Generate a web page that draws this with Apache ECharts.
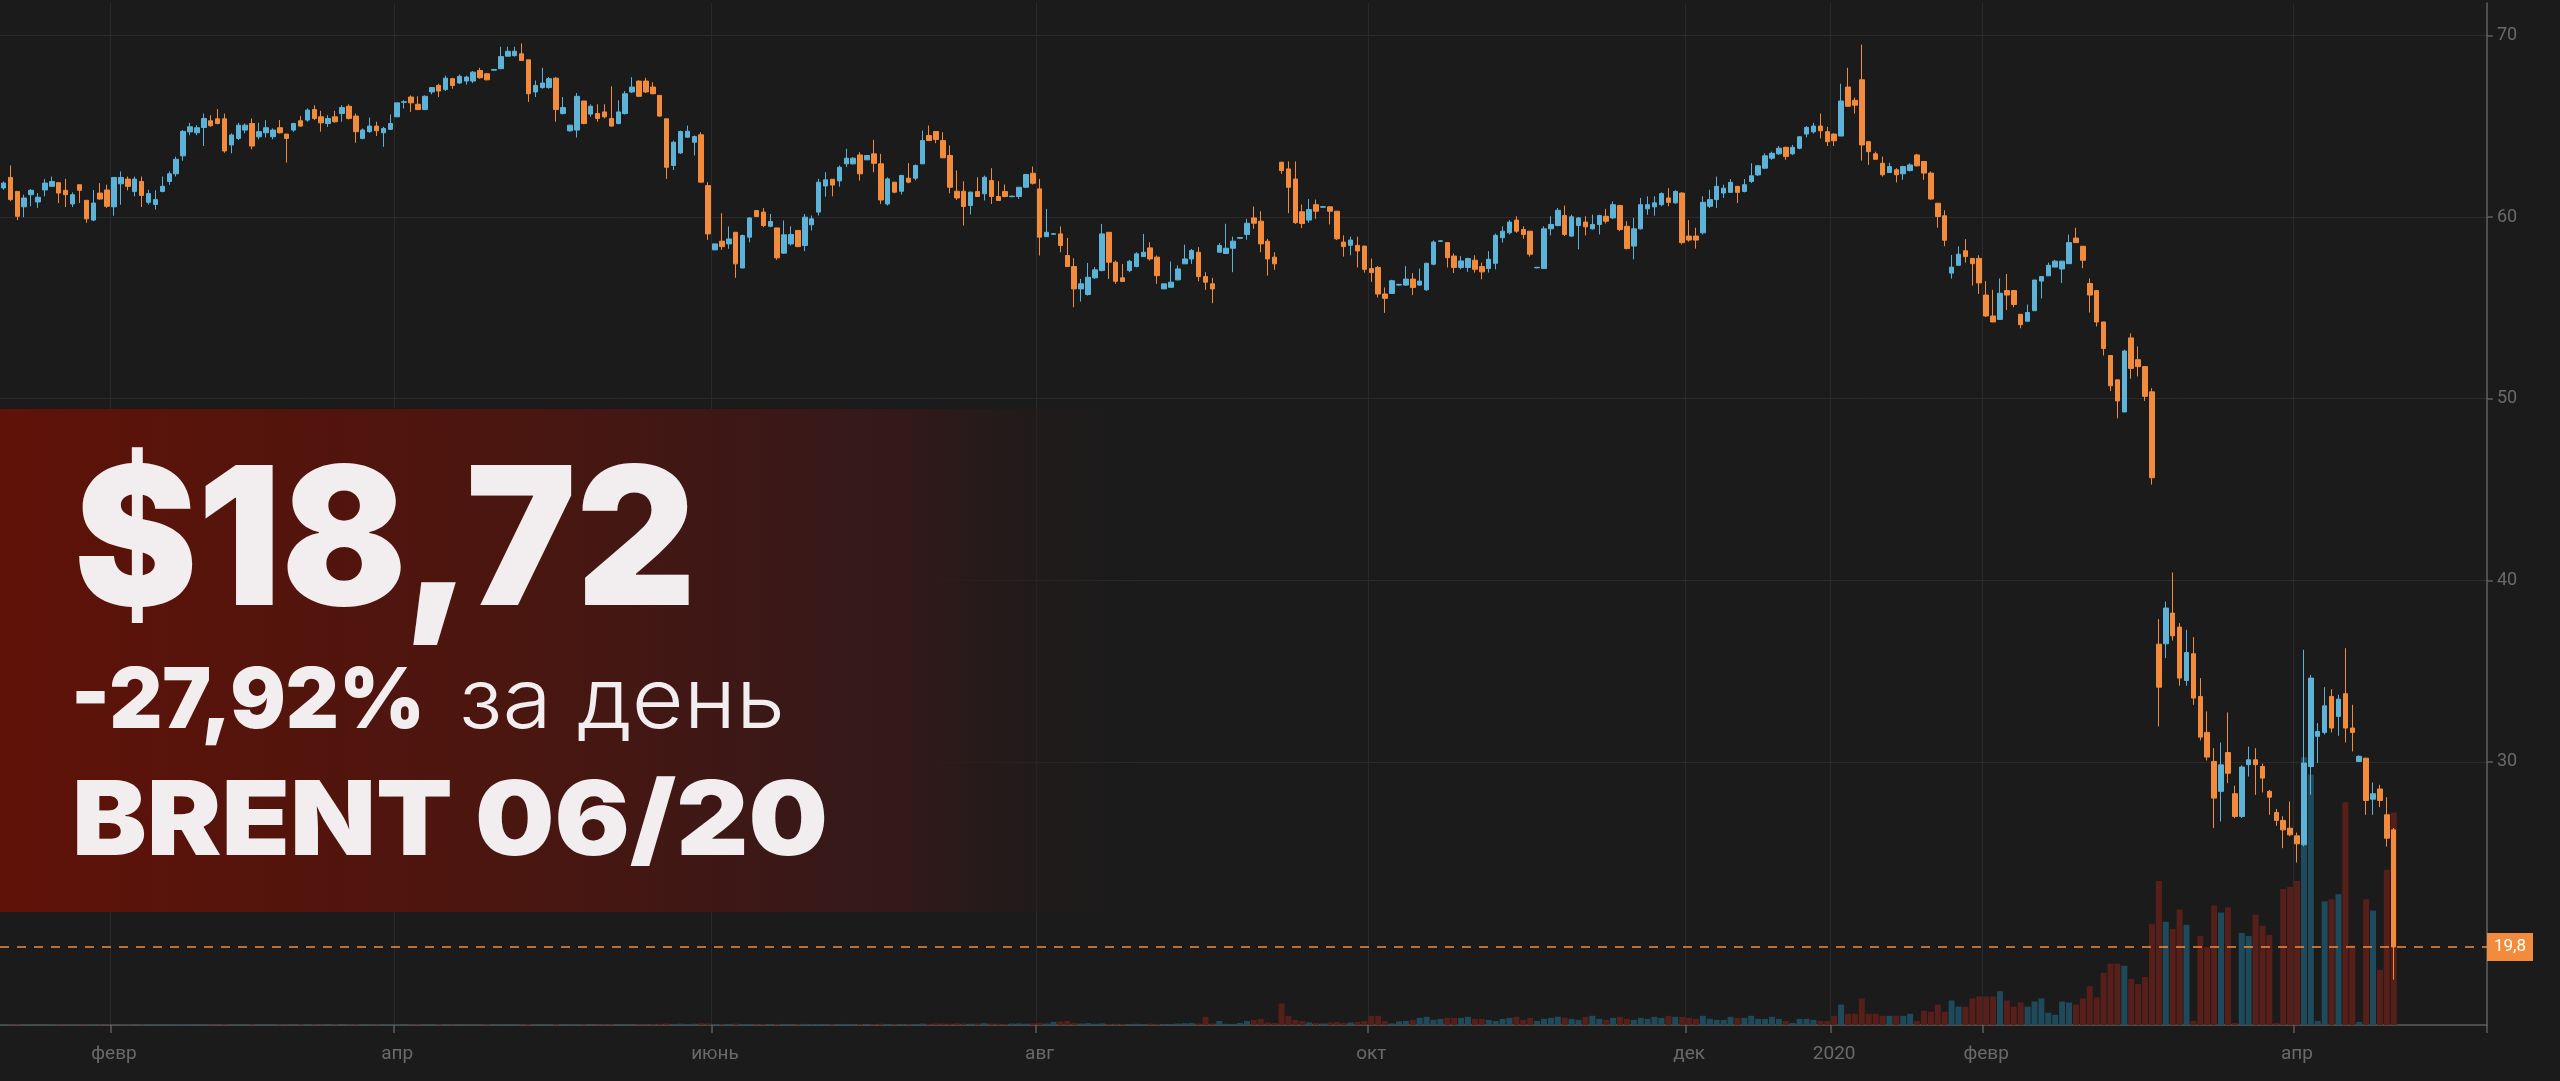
<!DOCTYPE html>
<html><head><meta charset="utf-8">
<script src="https://cdn.jsdelivr.net/npm/echarts/dist/echarts.min.js"></script>
<style>html,body{margin:0;padding:0;background:#1b1b1b;overflow:hidden}#c{width:2560px;height:1081px}</style>
</head><body><div id="c"></div>
<script>
// ---- data ----
const monthKeys = ['2019-01','2019-02','2019-03','2019-04','2019-05','2019-06','2019-07','2019-08','2019-09','2019-10','2019-11','2019-12','2020-01','2020-02','2020-03','2020-04'];
const candlesPerMonth = [16,20,21,21,25,22,25,24,24,24,22,21,22,22,23,15];
const emptySlotsAfter = 13;
const monthNames = ['янв','февр','март','апр','май','июнь','июль','авг','сент','окт','нояб','дек'];

const opens = [
61.61,62.19,61.42,60.57,61.24,60.84,61.5,61.7,61.9,61.48,
60.73,61.79,60.93,59.84,61.33,61.5,60.57,61.84,62.1,61.42,
61.97,60.82,60.7,61.42,61.97,62.39,63.38,64.7,64.65,64.94,
65.31,65.42,65.42,63.98,64.34,64.8,65.16,64.43,64.65,64.43,
64.93,64.58,64.8,65.31,65.35,65.93,65.53,65.16,65.53,65.71,
66.11,65.57,64.34,64.71,65.02,64.65,64.84,65.53,66.33,66.62,
66.22,65.93,66.9,67.26,67.03,67.63,67.39,67.5,67.5,68.08,
67.9,68.1,68.18,68.87,68.9,69.0,68.67,66.9,67.14,67.14,
67.66,65.71,64.76,64.8,66.4,65.68,65.71,65.8,65.44,65.16,
65.71,66.9,67.5,67.5,67.17,66.71,
65.42,62.85,63.54,64.41,64.13,64.54,61.74,58.2,58.68,58.53,
59.17,57.2,58.9,60.37,60.28,59.5,59.41,58.02,58.53,59.27,
58.44,59.58,60.28,61.72,62.09,62.0,62.94,62.94,63.43,63.16,
63.49,62.94,60.73,61.93,61.43,62.15,62.15,62.94,64.5,64.72,
64.22,63.4,61.43,61.43,60.64,61.41,61.29,62.02,61.14,61.41,
61.13,61.14,61.65,62.42,61.56,58.93,59.06,59.08,57.89,57.28,
56.05,55.74,56.66,57.06,59.17,57.52,56.66,57.06,57.28,57.83,
58.31,57.8,56.05,56.14,56.55,57.43,57.7,58.07,56.73,56.33,
58.07,58.0,58.29,58.84,59.05,59.96,59.78,58.68,57.8,63.03,
62.66,62.1,60.3,
59.84,60.69,60.55,60.57,60.33,58.63,58.45,58.45,58.41,57.17,
57.23,55.77,55.8,56.26,56.26,56.59,56.26,56.0,57.41,58.67,
58.6,57.86,57.23,57.23,57.63,57.28,57.17,57.46,58.87,59.14,
59.84,59.32,59.23,57.21,57.17,59.36,59.54,60.09,58.96,59.54,
59.73,59.36,59.6,60.05,59.96,60.64,59.5,58.41,59.36,60.46,
60.57,60.69,61.06,60.79,61.33,58.96,58.96,59.14,60.6,60.97,
61.33,61.37,61.7,61.42,61.97,62.33,62.7,63.25,63.49,63.85,
63.49,63.8,64.58,64.7,65.02,64.71,64.58,64.47,67.17,66.44,
67.57,64.16,63.49,62.97,62.46,62.61,62.39,62.57,63.43,63.07,62.43,
60.77,60.08,56.92,57.35,58.15,57.73,57.73,55.71,54.56,54.37,
55.96,55.96,54.65,54.27,54.85,56.48,56.77,57.25,57.15,57.44,
58.85,58.4,56.35,55.96,54.23,52.38,51.04,49.27,53.35,52.15,
51.77,50.38,
36.48,36.5,38.19,37.42,34.48,35.95,33.6,31.62,30.02,28.37,
30.51,28.24,26.99,29.84,30.11,29.74,28.37,27.21,26.77,26.34,
25.92,25.43,29.74,31.4,31.62,33.6,32.5,33.75,31.86,30.02,
30.2,27.94,28.5,27.08,26.25];

const closes = [
61.88,60.97,60.05,61.06,61.48,61.1,61.88,61.97,61.33,61.24,
61.24,61.48,59.91,60.78,61.0,60.6,62.19,62.19,61.7,62.1,
61.2,61.3,60.97,61.7,62.39,63.19,64.73,64.98,64.93,65.44,
65.04,65.16,63.65,64.53,65.07,65.07,63.92,64.71,64.93,64.8,
64.65,64.34,65.16,65.02,65.9,65.44,65.2,65.44,65.26,66.04,
65.44,64.71,64.8,65.02,64.76,64.89,65.16,66.3,66.36,66.3,
65.93,66.66,67.14,66.95,67.66,67.26,67.76,67.72,67.99,67.68,
67.57,68.14,68.85,69.14,69.14,68.63,66.8,67.26,67.39,67.63,
65.93,66.04,65.07,66.66,65.16,66.11,65.44,65.53,65.02,65.8,
66.8,67.17,66.66,66.9,66.8,65.57,
62.75,64.13,64.72,64.74,64.44,61.93,59.08,58.53,58.38,58.8,
57.43,58.99,59.96,60.04,59.54,59.76,57.76,59.03,59.05,58.38,
60.0,59.91,61.93,62.06,61.77,62.75,63.25,63.25,62.39,63.4,
62.97,60.95,62.11,61.38,62.3,61.93,62.85,64.22,64.22,64.28,
63.27,61.65,61.06,60.59,61.38,61.14,62.2,61.14,60.92,61.14,
61.16,61.65,62.35,61.87,58.9,59.17,59.09,58.44,57.28,56.05,
56.33,56.69,57.1,59.08,57.52,56.47,56.46,57.57,57.98,58.07,
57.7,56.78,56.33,56.42,57.15,57.7,58.16,56.73,56.42,56.05,
58.44,58.29,58.68,58.88,59.67,59.67,58.53,57.7,57.43,62.57,
61.65,59.7,59.65,
60.42,60.33,60.58,60.33,58.81,58.38,58.74,58.14,57.13,56.95,
55.77,55.53,56.5,56.3,56.59,56.13,56.48,57.46,58.63,58.7,
57.77,57.23,57.59,57.72,57.13,56.99,57.68,59.0,59.23,59.73,
59.23,59.05,57.96,57.24,59.36,59.6,60.38,59.05,60.02,59.96,
59.47,59.6,60.09,59.78,60.69,59.32,58.27,59.36,60.69,60.69,
60.79,61.3,60.82,61.42,58.6,58.74,58.74,60.82,60.97,61.7,
61.6,61.92,61.37,61.79,62.28,62.83,63.38,63.52,63.8,63.34,
63.85,64.43,64.95,65.02,64.76,64.16,64.21,66.4,66.11,66.17,
63.98,63.61,63.19,62.34,62.79,62.34,62.79,62.88,62.83,62.43,61.0,
60.04,58.73,57.25,57.96,57.83,57.44,56.38,54.56,54.23,55.81,
55.71,55.19,54.08,54.75,56.54,56.73,57.35,57.58,57.58,58.6,
58.6,57.63,55.71,54.23,52.77,50.71,49.88,52.63,51.67,51.77,
50.13,45.65,
34.11,38.47,36.94,34.61,36.02,33.51,31.36,30.26,28.0,29.83,
29.37,26.99,29.71,30.11,29.84,29.1,28.05,26.77,26.25,25.98,
25.48,29.93,34.61,31.67,33.08,31.86,33.45,31.86,31.62,30.3,
27.87,28.24,27.87,25.79,19.8];

const lows = [
61.51,60.88,59.84,60.0,60.6,60.51,61.15,61.66,60.78,60.56,
60.56,60.78,59.69,59.78,60.97,60.51,60.08,60.69,61.48,61.15,
60.56,60.69,60.42,61.37,61.79,62.24,63.11,64.52,64.52,63.92,
64.98,65.12,63.55,63.52,64.25,64.62,63.74,64.29,64.39,64.29,
64.61,63.01,64.7,64.98,65.26,65.35,64.71,64.98,65.2,65.26,
65.38,64.1,64.29,64.65,64.47,63.88,64.8,65.53,65.99,65.8,
65.9,65.9,66.77,66.62,66.95,67.08,67.35,67.3,67.39,67.63,
67.53,68.08,68.18,68.87,68.85,68.63,66.35,66.62,67.08,67.08,
65.26,65.66,64.71,64.39,65.12,65.53,65.26,65.44,64.98,65.12,
65.66,66.84,66.62,66.84,66.77,65.53,
62.11,62.6,63.49,64.38,63.4,61.93,58.75,58.2,58.2,58.26,
56.66,57.2,58.62,60.0,59.45,59.45,57.65,57.98,58.44,58.35,
58.13,59.27,60.09,61.13,61.15,61.68,62.76,62.9,62.02,63.16,
62.48,60.73,60.64,61.32,61.25,61.87,62.02,62.94,64.22,64.08,
63.27,61.32,60.95,59.54,60.15,61.14,60.92,60.73,60.92,61.1,
61.1,61.01,61.61,61.8,57.89,58.93,59.03,58.07,57.28,55.04,
55.35,55.68,56.6,57.02,56.6,56.33,56.46,56.97,57.24,57.83,
57.61,56.33,56.05,56.14,56.51,57.43,57.43,56.47,56.0,55.26,
58.07,57.98,56.97,58.82,58.76,59.36,58.07,56.78,57.1,62.39,
60.22,59.63,59.4,
59.69,59.91,60.52,59.6,58.74,57.83,57.9,57.23,56.95,56.44,
55.58,54.73,55.8,56.24,56.22,55.71,56.22,55.95,57.35,58.65,
57.23,56.92,57.13,56.99,56.95,56.58,56.95,57.13,58.6,59.05,
59.14,58.81,57.83,57.19,57.17,59.0,59.5,58.96,58.92,58.23,
59.0,59.32,59.05,59.65,59.9,59.23,58.23,57.68,59.32,60.14,
60.09,60.6,60.6,60.75,58.5,58.65,58.27,59.05,60.51,60.51,
61.06,61.33,60.78,61.37,61.88,62.28,62.65,63.16,63.43,63.16,
63.43,63.74,64.4,64.61,64.34,63.92,63.92,64.47,66.11,65.71,
63.12,62.88,63.19,62.24,62.43,61.92,62.06,62.52,62.79,62.06,60.97,
59.42,58.4,56.62,57.35,57.5,56.23,55.77,54.5,54.23,54.37,
54.88,55.04,53.88,54.27,54.85,55.52,56.77,57.25,56.38,57.44,
58.6,57.19,54.75,53.98,52.38,50.42,48.92,49.27,51.1,51.23,
49.88,45.27,
31.95,35.71,36.68,34.19,34.19,33.14,31.18,30.07,26.35,26.71,
28.82,26.9,26.9,29.19,28.18,28.31,27.08,26.47,25.24,25.9,
24.45,25.34,28.18,29.93,31.5,31.62,31.43,31.06,30.57,30.0,
27.08,27.08,27.5,25.33,18.0];

const highs = [
61.97,62.85,61.42,61.24,61.55,61.33,62.1,62.24,61.9,62.11,
61.37,61.79,60.93,61.5,61.88,61.79,62.19,62.52,62.24,62.24,
62.24,61.51,61.48,62.24,62.52,63.33,64.8,65.2,65.07,65.71,
65.62,65.96,65.71,64.62,65.2,65.16,65.44,65.2,65.35,64.89,
65.35,64.58,65.2,65.57,65.99,66.17,65.86,65.62,65.86,66.17,
66.22,65.71,64.89,65.49,65.26,64.98,65.66,66.3,66.44,66.71,
66.66,66.71,67.17,67.35,67.8,67.68,67.86,67.8,68.05,68.23,
67.94,68.16,69.39,69.39,69.39,69.57,68.67,67.53,68.23,67.72,
67.72,66.62,65.07,66.84,66.4,66.22,66.22,66.22,67.21,66.44,
66.95,67.71,67.53,67.68,67.44,66.71,
65.42,64.22,64.77,65.05,64.5,64.68,61.93,58.53,60.22,59.49,
59.17,59.04,60.0,60.37,60.5,60.18,59.41,59.82,59.5,59.27,
60.18,60.09,62.11,62.48,62.09,62.85,63.77,63.31,63.58,63.4,
64.26,63.49,62.2,61.93,62.33,62.98,62.9,64.77,65.05,64.72,
64.68,63.95,62.58,61.98,61.41,62.2,62.29,62.7,61.98,61.8,
61.18,61.65,62.39,62.79,62.11,60.46,59.12,59.49,58.86,57.74,
56.6,57.48,57.25,59.63,59.17,57.61,57.43,57.65,58.07,59.08,
58.62,57.89,56.33,57.56,57.34,58.49,58.25,58.35,56.97,56.66,
58.57,59.64,58.93,58.9,59.91,60.59,60.33,58.81,58.07,63.03,
63.07,63.07,60.7,
61.0,60.97,60.62,60.6,60.33,59.0,58.93,58.93,58.41,57.72,
57.32,56.13,56.55,56.32,57.3,56.92,57.17,57.5,58.72,58.72,
58.63,58.0,57.86,57.77,57.9,57.5,58.13,59.1,59.5,59.84,
60.05,59.5,59.23,57.26,59.5,60.05,60.51,60.64,60.14,60.02,
60.05,60.14,60.14,60.46,60.87,60.69,59.78,59.96,61.06,61.15,
61.15,61.37,61.6,61.48,61.37,59.84,59.42,61.15,61.51,62.24,
61.79,62.1,61.7,62.1,62.97,62.88,63.52,63.61,63.92,63.88,
63.98,64.47,65.02,65.2,65.71,64.98,64.62,67.35,68.23,66.59,
69.51,64.16,63.61,63.34,63.0,62.7,62.83,62.97,63.49,63.07,62.52,
60.77,60.38,57.92,58.4,58.79,57.73,57.9,56.48,56.0,56.62,
56.87,55.96,54.65,55.19,56.54,56.73,57.5,57.65,57.58,59.04,
59.42,58.4,56.62,55.96,54.23,52.38,51.04,52.7,53.6,52.88,
51.77,50.58,
37.86,38.83,40.43,37.64,37.27,36.87,34.61,32.77,30.75,31.06,
32.72,28.68,29.8,30.84,30.75,29.9,28.45,27.4,27.0,27.81,
26.1,36.17,34.79,32.13,34.11,34.0,33.69,36.26,33.14,30.35,
30.2,28.86,28.73,28.05,26.35];

// volume, thousand lots
const volumes = [
0.4,0.3,0.5,0.3,0.4,0.2,0.3,0.5,0.4,0.3,0.6,0.3,0.4,0.5,0.3,0.4,0.3,0.5,0.4,0.3,
0.3,0.4,0.5,0.3,0.4,0.6,0.8,0.4,0.3,0.5,0.4,0.3,0.6,0.4,0.5,0.3,0.5,0.4,0.3,0.4,
0.5,0.4,0.3,0.6,0.4,0.5,0.3,0.4,0.5,0.3,0.4,0.6,0.3,0.5,0.4,0.3,0.5,0.6,0.3,0.4,
0.5,0.3,0.4,0.6,0.5,0.3,0.4,0.5,0.4,0.3,0.6,0.3,0.5,0.4,0.4,0.5,0.8,0.4,0.3,0.5,
0.7,0.4,0.5,0.6,0.5,0.4,0.3,0.5,0.6,0.4,0.5,0.4,0.6,0.5,0.7,1.2,1.5,1.0,1.3,0.9,
1.2,1.8,1.5,1.0,0.8,1.1,1.4,1.0,0.9,0.7,1.0,0.8,1.2,0.9,0.7,0.8,1.1,0.9,1.0,0.8,
0.7,0.9,1.1,0.8,1.0,0.6,0.9,1.3,1.0,0.8,0.9,0.7,1.0,1.4,1.2,1.6,1.5,1.3,1.7,1.4,
1.2,1.6,1.8,1.5,1.3,1.0,1.4,1.6,1.3,1.7,2.0,1.5,3.0,3.5,4.0,2.0,1.5,1.8,1.2,1.6,
1.0,1.3,1.1,0.9,1.2,1.0,1.4,1.1,0.8,1.0,1.5,1.8,2.0,1.6,8.0,1.5,4.0,1.2,1.0,2.0,
4.0,5.0,6.0,2.5,2.0,21,9.0,5.0,4.0,2.5,2.0,1.5,2.5,3.0,2.0,2.5,3.0,4.0,9.0,9.0,
4.0,1.5,3.5,4.0,5.0,7.0,8.0,5.0,6.0,7.0,7.0,7.0,8.0,6.0,6.0,5.0,4.0,6.0,7.0,8.0,
5.0,7.0,4.0,6.0,7.0,8.0,7.0,6.0,5.0,8.0,9.0,6.0,5.0,7.0,8.0,6.0,5.0,7.0,6.0,8.0,
7.0,9.0,8.0,8.0,7.0,6.0,9.0,6.0,5.0,5.0,8.0,7.0,7.0,9.0,6.0,6.0,8.0,6.0,4.0,2.0,
6.0,6.0,5.0,4.0,4.0,9.0,20,11,11,26,11,11,9,9,9,9,11,4,14,13,
20,13,24,18,18,26,28,28,28,33,24,18,22,18,23,26,12,
10,23,22,20,26,38,27,51,60,60,58,45,40,47,99,141,101,94,113,98,
4,87,76,117,110,115,2,90,87,108,97,88,2,133,135,141,262,245,4,121,
123,128,218,78,3,123,112,54,152,208];

const priceTicks = [30,40,50,60,70];
const lastPrice = 19.8;
const headline = '$18,72';
const changeBold = '-27,92%';
const changeLight = 'за день';
const ticker = 'BRENT 06/20';

// ---- build ----
const categories = [];
monthKeys.forEach((k, mi) => {
  for (let d = 0; d < candlesPerMonth[mi]; d++) categories.push(k + '-' + String(d + 1).padStart(2, '0'));
});
const lastKey = monthKeys[monthKeys.length - 1];
for (let p = 0; p < emptySlotsAfter; p++) categories.push(lastKey + '-' + String(candlesPerMonth[candlesPerMonth.length - 1] + p + 1));

const candleData = opens.map((o, i) => [o, closes[i], lows[i], highs[i]]);
const UP = '#5cb3d7', DOWN = '#f28c3c', VUP = '#1f4a5b', VDOWN = '#571f19';
const volData = volumes.map((v, i) => ({ value: v, itemStyle: { color: closes[i] >= opens[i] ? VUP : VDOWN } }));

function isShownMonthStart(idx) {
  if (idx <= 0 || idx >= categories.length) return false;
  const cur = categories[idx].slice(0, 7), prev = categories[idx - 1].slice(0, 7);
  if (cur === prev) return false;
  const m = +cur.slice(5, 7);
  return m === 1 || m % 2 === 0;
}
function monthLabel(val) {
  const m = +val.slice(5, 7);
  return m === 1 ? val.slice(0, 4) : monthNames[m - 1];
}

// horizontal stretch so the overlay words span the same width as in the picture
const measureCtx = document.createElement('canvas').getContext('2d');
function stretchTo(text, weight, size, family, targetWidth) {
  measureCtx.font = weight + ' ' + size + 'px ' + family;
  const w = measureCtx.measureText(text).width;
  return w > 0 ? targetWidth / w : 1;
}
const FONT = 'Inter';
const TXT = '#f2eef0';

const AX = '#5e5e5e', LBL = '#6a6a6a', GRIDC = '#2a2a2a';
const chart = echarts.init(document.getElementById('c'), null, { renderer: 'canvas' });
chart.setOption({
  backgroundColor: '#1b1b1b',
  animation: false,
  grid: { left: 0, top: 3, width: 2487, height: 1022, outerBoundsMode: 'none', containLabel: false },
  xAxis: {
    type: 'category', data: categories, boundaryGap: true,
    axisLine: { show: true, lineStyle: { color: AX, width: 1.5 } },
    axisTick: { show: true, interval: (i) => isShownMonthStart(i), length: 8, lineStyle: { color: AX, width: 1.5 } },
    axisLabel: { interval: (i) => isShownMonthStart(i), formatter: monthLabel, color: LBL, fontSize: 19, fontFamily: 'Roboto', margin: 20 },
    splitLine: { show: true, interval: (i) => isShownMonthStart(i), lineStyle: { color: GRIDC, width: 1 } }
  },
  yAxis: [{
    type: 'value', position: 'right', min: 15.5, max: 71.8, scale: true,
    axisLine: { show: true, lineStyle: { color: AX, width: 1.5 } },
    axisTick: { show: true, length: 6, customValues: priceTicks, lineStyle: { color: AX, width: 1.5 } },
    axisLabel: { customValues: priceTicks, color: LBL, fontSize: 18, fontFamily: 'Roboto', margin: 10 },
    splitLine: { show: true, lineStyle: { color: GRIDC, width: 1 } }
  }, {
    type: 'value', min: 0, max: 1000, show: false, splitLine: { show: false }
  }],
  series: [{
    type: 'bar', name: 'vol', yAxisIndex: 1, data: volData, barWidth: 6, z: 1, silent: true
  }, {
    type: 'candlestick', name: 'BRENT', data: candleData, barWidth: 5, z: 3,
    itemStyle: { color: UP, color0: DOWN, borderColor: UP, borderColor0: DOWN, borderWidth: 1, borderColorDoji: '#9a9a9a' },
    markLine: {
      silent: true, symbol: ['none', 'none'], animation: false,
      lineStyle: { color: DOWN, type: [9, 8], width: 1.5 },
      label: { show: true, position: 'end', distance: 0, formatter: () => String(lastPrice).replace('.', ','),
        color: '#ffffff', backgroundColor: DOWN, padding: [6, 7, 5, 7], fontSize: 17, fontFamily: 'Roboto' },
      data: [{ yAxis: lastPrice }]
    }
  }],
  graphic: [
    { type: 'rect', z: 100, shape: { x: 0, y: 409, width: 1160, height: 503 },
      style: { fill: new echarts.graphic.LinearGradient(0, 0, 1, 0, [
        { offset: 0, color: '#5f1208' }, { offset: 0.45, color: '#4a1610' },
        { offset: 0.78, color: '#33191a' }, { offset: 1, color: 'rgba(27,27,27,0)' }]) } },
    { type: 'text', z: 101, x: 74, y: 547, scaleX: stretchTo(headline, 900, 193, FONT, 622),
      style: { text: headline, fontSize: 193, fontWeight: 900, fontFamily: FONT, fill: TXT, verticalAlign: 'middle' } },
    { type: 'text', z: 101, x: 71, y: 703, scaleX: stretchTo(changeBold, 900, 84, FONT, 354),
      style: { text: changeBold, fontSize: 84, fontWeight: 900, fontFamily: FONT, fill: TXT, verticalAlign: 'middle' } },
    { type: 'text', z: 101, x: 459, y: 703, scaleX: stretchTo(changeLight, 300, 84, FONT, 326),
      style: { text: changeLight, fontSize: 84, fontWeight: 300, fontFamily: FONT, fill: TXT, verticalAlign: 'middle' } },
    { type: 'text', z: 101, x: 72, y: 824, scaleX: stretchTo(ticker, 900, 103, FONT, 756),
      style: { text: ticker, fontSize: 103, fontWeight: 900, fontFamily: FONT, fill: TXT, verticalAlign: 'middle' } }
  ]
});
</script></body></html>
